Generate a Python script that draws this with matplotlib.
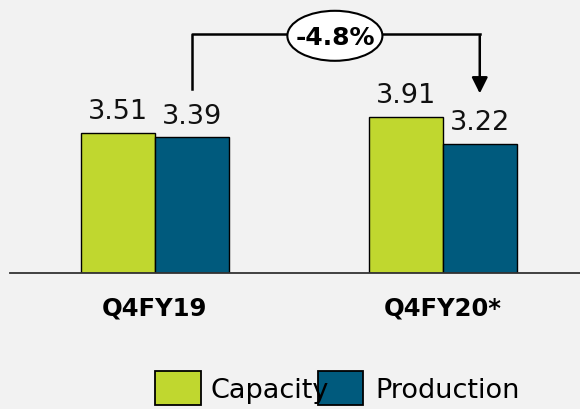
import matplotlib.pyplot as plt
from matplotlib.patches import Ellipse, Rectangle

categories = ["Q4FY19", "Q4FY20*"]
capacity = [3.51, 3.91]
production = [3.39, 3.22]
series_names = ["Capacity", "Production"]
change_label = "-4.8%"

green = "#c0d72f"
blue = "#005a7d"
bg = "#f2f2f2"

fig = plt.figure(figsize=(5.8, 4.1), dpi=100, facecolor=bg)
ax = fig.add_axes([10 / 580, 1 - 274 / 410, 570 / 580, 274 / 410])
ax.set_facecolor(bg)

x = list(range(len(categories)))
w = 0.257
b1 = ax.bar([i - w / 2 for i in x], capacity, w, color=green, edgecolor="black", linewidth=1)
b2 = ax.bar([i + w / 2 for i in x], production, w, color=blue, edgecolor="black", linewidth=1)

for bars, vals in [(b1, capacity), (b2, production)]:
    for r, v in zip(bars, vals):
        ax.text(r.get_x() + r.get_width() / 2, v + 0.22, f"{v:.2f}",
                ha="center", va="bottom", fontsize=19.5, color="#111111")

ax.set_xlim(-0.503, 1.476)
ax.set_ylim(0, 6.85)
for s in ["top", "right", "left"]:
    ax.spines[s].set_visible(False)
ax.spines["bottom"].set_color("#333333")
ax.spines["bottom"].set_linewidth(1.3)
ax.set_yticks([])
ax.set_xticks(x)
ax.set_xticklabels(categories, fontsize=17.5, fontweight="bold")
ax.tick_params(axis="x", length=0, pad=16)

# bracket with arrow from first to second period
xl, xr, ytop = 0.128, 1.128, 5.975
ax.plot([xl, xl, xr], [4.6, ytop, ytop], color="black", lw=1.8, clip_on=False)
ax.annotate("", xy=(xr, 4.42), xytext=(xr, ytop + 0.02),
            arrowprops=dict(arrowstyle="-|>", color="black", lw=1.8, mutation_scale=24))
ax.add_patch(Ellipse((0.625, 5.93), 0.33, 1.25, facecolor="white", edgecolor="black",
                     lw=1.5, zorder=5, clip_on=False))
ax.text(0.625, 5.9, change_label, ha="center", va="center", fontsize=18,
        fontweight="bold", zorder=6)

# legend drawn by hand
fig.add_artist(Rectangle((155 / 580, 1 - 406 / 410), 46 / 580, 34 / 410,
                         transform=fig.transFigure, facecolor=green, edgecolor="black", lw=1.3))
fig.text(211 / 580, 1 - 391 / 410, series_names[0], fontsize=19.5, va="center", ha="left")
fig.add_artist(Rectangle((318 / 580, 1 - 406 / 410), 45 / 580, 34 / 410,
                         transform=fig.transFigure, facecolor=blue, edgecolor="black", lw=1.3))
fig.text(375 / 580, 1 - 391 / 410, series_names[1], fontsize=19.5, va="center", ha="left")

fig.savefig("out.png", dpi=100, facecolor=bg)
